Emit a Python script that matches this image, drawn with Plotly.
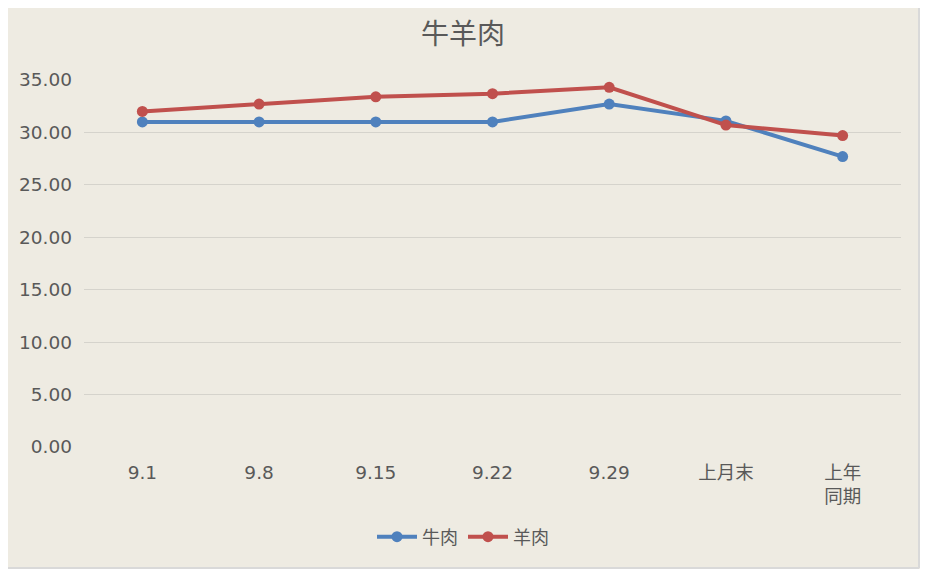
import plotly.graph_objects as go

# data
categories = ["9.1", "9.8", "9.15", "9.22", "9.29", "上月末", "上年<br>同期"]
beef = [31.0, 31.0, 31.0, 31.0, 32.7, 31.1, 27.7]
mutton = [32.0, 32.7, 33.4, 33.7, 34.3, 30.7, 29.7]
y_ticks = [0, 5, 10, 15, 20, 25, 30, 35]

blue = "#4F81BD"
red = "#C0504D"
grey_text = "#595959"
bg = "#EEEBE2"

fig = go.Figure()
fig.add_trace(go.Scatter(
    x=categories, y=beef, name="牛肉", mode="lines+markers",
    line=dict(color=blue, width=4), marker=dict(size=11, color=blue)
))
fig.add_trace(go.Scatter(
    x=categories, y=mutton, name="羊肉", mode="lines+markers",
    line=dict(color=red, width=4), marker=dict(size=11, color=red)
))

# the page has an 8px body margin, so margins are shifted to compensate
fig.update_layout(
    width=928, height=569,
    margin=dict(l=76, r=35, t=72, b=130),
    paper_bgcolor=bg,
    plot_bgcolor=bg,
    font=dict(family="DejaVu Sans, Noto Sans CJK SC", color=grey_text, size=18),
    title=dict(text="牛羊肉", x=(463 - 8) / 928, xanchor="center", y=1 - 26 / 569, yanchor="middle",
               font=dict(size=28, color=grey_text, family="Noto Sans CJK SC")),
    showlegend=True,
    legend=dict(orientation="h", x=(463 - 8 - 76) / 817, xanchor="center",
                y=(439 - 529) / 367, yanchor="middle",
                font=dict(size=18, family="Noto Sans CJK SC", color=grey_text),
                itemwidth=40, traceorder="normal", bgcolor="rgba(0,0,0,0)"),
    xaxis=dict(type="category", range=[-0.5, 6.5], showgrid=False, showline=False,
               zeroline=False, ticks="", ticklabelstandoff=12,
               tickfont=dict(size=18.5)),
    yaxis=dict(range=[0, 35], tickvals=y_ticks, tickformat=".2f",
               showgrid=True, gridcolor="#D5D3CC", gridwidth=1.3,
               zeroline=False, showline=False, ticks="",
               ticklabelstandoff=11, tickfont=dict(size=18.5)),
)

# light border on the visible right and bottom edges of the chart
fig.add_shape(type="line", xref="paper", yref="paper",
              x0=1 + 18 / 817, x1=1 + 18 / 817,
              y0=-121 / 367, y1=1 + 72 / 367,
              line=dict(color="#D9D9D9", width=2), layer="below")
fig.add_shape(type="line", xref="paper", yref="paper",
              x0=-76 / 817, x1=1 + 18 / 817,
              y0=-121 / 367, y1=-121 / 367,
              line=dict(color="#D9D9D9", width=2), layer="below")

fig.write_html("out.html")
